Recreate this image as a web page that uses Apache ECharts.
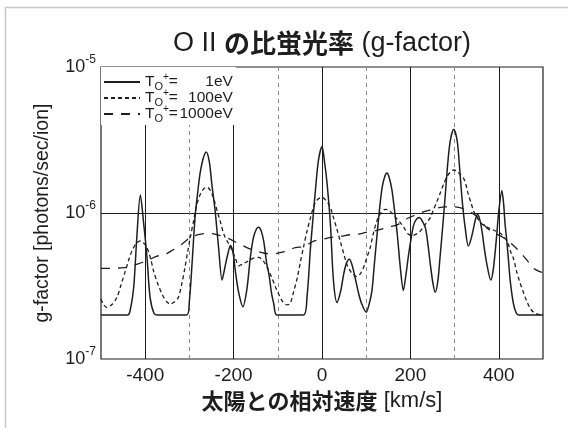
<!DOCTYPE html>
<html><head><meta charset="utf-8">
<script src="https://cdn.jsdelivr.net/npm/echarts@6/dist/echarts.min.js"></script>
<style>html,body{margin:0;padding:0;background:#fff}#c{width:568px;height:428px}</style>
</head><body><div id="c"></div>
<script>
// ---- data ----
const seriesNames = ['1eV', '100eV', '1000eV'];
const xLabelTicks = [-400, -200, 0, 200, 400];

const x1eV = [-500,-440,-434,-426,-419,-411,-404,-396,-389,-380,-372,-306,-300,-294,-287,-281,-276,-269,-262,-255,-249,-242,-234,-226,-220,-214,-207,-201,-196,-189,-179,-170,-162,-155,-148,-143,-138,-132,-125,-120,-114,-109,-102,-42,-34,-26,-20,-15,-8,0,6,11,19,26,34,42,49,55,62,68,75,83,90,100,107,113,118,124,130,136,142,147,152,158,164,170,178,184,190,196,202,207,213,220,227,234,240,245,251,256,262,267,273,279,284,290,298,306,311,316,320,324,331,337,343,347,352,357,362,367,373,382,387,392,396,400,407,411,414,418,422,426,433,440,446,500];
const y1eV = [2.0e-7,2.0e-7,2.15e-7,3.1e-7,6.8e-7,1.33e-6,8.8e-7,5.0e-7,2.64e-7,2.05e-7,2.0e-7,2.0e-7,2.5e-7,4.5e-7,9.5e-7,1.4e-6,1.85e-6,2.35e-6,2.62e-6,2.25e-6,1.55e-6,1.05e-6,5.8e-7,3.47e-7,4.2e-7,5.1e-7,6.0e-7,5.3e-7,4.0e-7,2.9e-7,2.28e-7,3.0e-7,5.0e-7,6.8e-7,7.8e-7,8.0e-7,7.6e-7,6.45e-7,4.5e-7,3.8e-7,2.8e-7,2.38e-7,2.0e-7,2.0e-7,2.64e-7,5.8e-7,9.5e-7,1.42e-6,2.3e-6,2.85e-6,2.2e-6,1.65e-6,8.4e-7,3.43e-7,2.44e-7,2.9e-7,3.8e-7,4.5e-7,4.83e-7,4.4e-7,3.6e-7,2.8e-7,2.38e-7,2.09e-7,2.4e-7,2.94e-7,4.3e-7,6.8e-7,1.05e-6,1.49e-6,1.78e-6,1.88e-6,1.75e-6,1.45e-6,1.05e-6,7.3e-7,4.0e-7,2.95e-7,3.8e-7,5.2e-7,6.8e-7,8.2e-7,9.0e-7,9.3e-7,8.8e-7,7.9e-7,6.0e-7,4.46e-7,3.3e-7,2.86e-7,3.4e-7,4.96e-7,8.0e-7,1.34e-6,2.1e-6,3.1e-6,3.75e-6,3.1e-6,2.1e-6,1.34e-6,1.0e-6,7.9e-7,5.95e-7,6.6e-7,7.9e-7,9.0e-7,9.8e-7,9.0e-7,7.5e-7,5.8e-7,4.46e-7,3.47e-7,4.0e-7,5.5e-7,7.5e-7,1.03e-6,1.42e-6,1.15e-6,8.5e-7,6.5e-7,4.7e-7,3.4e-7,2.4e-7,2.05e-7,2.0e-7,2.0e-7];

const x100eV = [-500,-494,-487,-476,-464,-455,-445,-437,-430,-420,-411,-403,-396,-388,-381,-372,-362,-353,-344,-335,-325,-317,-310,-304,-298,-290,-283,-275,-267,-260,-252,-245,-237,-229,-222,-212,-203,-196,-188,-178,-166,-155,-143,-133,-124,-115,-105,-96,-88,-79,-72,-64,-56,-49,-42,-34,-26,-20,-15,-8,0,8,15,21,26,34,41,49,56,62,68,79,87,94,101,109,116,124,133,143,150,158,167,177,187,196,205,214,222,233,245,252,260,268,275,283,290,298,306,313,320,326,331,337,343,352,362,373,384,394,403,412,420,427,433,440,447,455,463,470,478,488,500];
const y100eV = [2.58e-7,2.35e-7,2.26e-7,2.35e-7,2.64e-7,3.2e-7,4.0e-7,4.8e-7,5.5e-7,6.2e-7,6.45e-7,6.2e-7,5.8e-7,4.9e-7,4.0e-7,3.3e-7,2.79e-7,2.5e-7,2.38e-7,2.45e-7,2.64e-7,3.3e-7,4.24e-7,5.4e-7,6.8e-7,9.0e-7,1.15e-6,1.35e-6,1.47e-6,1.5e-6,1.42e-6,1.25e-6,1.03e-6,8.5e-7,7.15e-7,6.2e-7,5.5e-7,4.9e-7,4.35e-7,4.5e-7,4.7e-7,4.9e-7,4.96e-7,4.7e-7,4.24e-7,3.7e-7,3.1e-7,2.7e-7,2.45e-7,2.35e-7,2.4e-7,2.9e-7,3.6e-7,4.6e-7,5.8e-7,7.5e-7,9.3e-7,1.08e-6,1.18e-6,1.25e-6,1.28e-6,1.23e-6,1.15e-6,1.05e-6,9.3e-7,7.7e-7,6.45e-7,5.3e-7,4.46e-7,4.1e-7,3.86e-7,3.67e-7,3.85e-7,4.24e-7,4.9e-7,5.8e-7,7.2e-7,8.8e-7,1.0e-6,1.06e-6,1.05e-6,1.0e-6,9.3e-7,8.6e-7,7.8e-7,7.15e-7,7.0e-7,7.2e-7,7.5e-7,8.3e-7,9.3e-7,1.05e-6,1.2e-6,1.38e-6,1.57e-6,1.78e-6,1.9e-6,1.97e-6,1.93e-6,1.83e-6,1.74e-6,1.55e-6,1.34e-6,1.18e-6,1.03e-6,9.2e-7,8.4e-7,8.0e-7,7.74e-7,7.5e-7,7.3e-7,6.8e-7,6.3e-7,5.4e-7,4.9e-7,4.0e-7,3.4e-7,2.9e-7,2.5e-7,2.25e-7,2.1e-7,2.03e-7,2.0e-7];

const x1000eV = [-500,-480,-460,-440,-420,-405,-390,-375,-355,-335,-317,-298,-280,-260,-245,-230,-207,-190,-170,-150,-130,-110,-90,-75,-60,-40,-20,0,20,40,64,86,109,124,150,170,194,215,235,260,280,300,320,335,350,373,390,410,430,448,465,478,490,500];
const y1000eV = [4.17e-7,4.17e-7,4.2e-7,4.25e-7,4.45e-7,4.6e-7,4.8e-7,5.05e-7,5.2e-7,5.65e-7,6.1e-7,6.8e-7,7.1e-7,7.25e-7,7.2e-7,7.0e-7,6.6e-7,6.2e-7,5.8e-7,5.5e-7,5.3e-7,5.25e-7,5.4e-7,5.6e-7,5.8e-7,5.9e-7,6.4e-7,6.6e-7,6.8e-7,6.9e-7,7.1e-7,7.2e-7,7.5e-7,7.6e-7,8.0e-7,8.3e-7,9.2e-7,9.8e-7,1.03e-6,1.08e-6,1.1e-6,1.1e-6,1.07e-6,1.02e-6,9.5e-7,7.9e-7,7.3e-7,6.8e-7,6.1e-7,5.4e-7,4.7e-7,4.2e-7,4.0e-7,3.9e-7];

// ---- chart ----
const LAT = "'Liberation Sans', Arial, sans-serif";
const CJK = "'Noto Sans CJK JP', sans-serif";
const zip = (xs, ys) => xs.map((x, i) => [x, ys[i]]);
const ink = '#1e1e1e';

const chart = echarts.init(document.getElementById('c'), null, {renderer: 'canvas'});
chart.setOption({
  animation: false,
  backgroundColor: '#fff',
  title: {
    text: '{l|O II }{c|の比蛍光率}{l| (g-factor)}',
    left: 322, textAlign: 'center', top: 30, padding: 0,
    textStyle: {
      fontWeight: 'normal',
      rich: {
        l: {fontSize: 27, fontFamily: LAT, fontWeight: 'normal', color: ink},
        c: {fontSize: 26, fontFamily: CJK, fontWeight: 'bold', color: ink}
      }
    }
  },
  graphic: [{
    type: 'rect', silent: true,
    shape: {x: 5.5, y: 7.5, width: 700, height: 600},
    style: {fill: 'none', stroke: '#c8c8c8', lineWidth: 1.5}
  }],
  grid: {left: 101, right: 25, top: 67, bottom: 69, show: true, borderColor: ink, borderWidth: 1.2, backgroundColor: 'transparent'},
  legend: {
    orient: 'vertical', left: 101, top: 67,
    padding: [5, 3, 1, 2], itemGap: -4,
    itemWidth: 36, itemHeight: 14,
    backgroundColor: '#fff',
    itemStyle: {color: 'rgba(0,0,0,0)', borderWidth: 0, opacity: 0},
    data: seriesNames,
    formatter: name => '{t|T}{o|O}{p|+}{t|=}{v|' + name + '}',
    textStyle: {
      color: ink,
      rich: {
        t: {fontSize: 15.5, lineHeight: 20, fontFamily: LAT, color: ink},
        o: {fontSize: 11, lineHeight: 9, verticalAlign: 'bottom', fontFamily: LAT, color: ink},
        p: {fontSize: 10, lineHeight: 18, verticalAlign: 'top', fontFamily: LAT, color: ink},
        v: {fontSize: 15.5, lineHeight: 20, width: 55, align: 'right', fontFamily: LAT, color: ink}
      }
    }
  },
  xAxis: [{
    type: 'value', position: 'bottom', min: -500, max: 500, interval: 200,
    axisLine: {show: false}, axisTick: {show: false}, axisLabel: {show: false},
    splitLine: {show: true, showMinLine: false, showMaxLine: false, lineStyle: {color: '#8a8a8a', type: [4, 4], width: 1}}
  }, {
    type: 'value', position: 'bottom', min: -500, max: 500, interval: 100,
    axisLine: {show: false}, axisTick: {show: false},
    axisLabel: {
      margin: 7, fontSize: 19, fontFamily: LAT, color: ink,
      formatter: v => xLabelTicks.includes(v) ? String(v) : ''
    },
    splitLine: {show: true, showMinLine: false, showMaxLine: false, lineStyle: {color: [ink, 'rgba(0,0,0,0)'], width: 1}},
    name: '{c|太陽との相対速度}{l| [km/s]}',
    nameLocation: 'middle', nameGap: 31,
    nameTextStyle: {
      rich: {
        c: {fontSize: 22, fontFamily: CJK, fontWeight: 'bold', color: ink},
        l: {fontSize: 22, fontFamily: LAT, color: ink}
      }
    }
  }],
  yAxis: {
    type: 'log', logBase: 10, min: 1e-7, max: 1e-5,
    axisLine: {show: false}, axisTick: {show: false}, minorTick: {show: false},
    axisLabel: {
      margin: 5, color: ink,
      formatter: v => '{b|10}{s|' + Math.round(Math.log10(v)) + '}',
      rich: {
        b: {fontSize: 18, fontFamily: LAT, color: ink},
        s: {fontSize: 12, fontFamily: LAT, color: ink, padding: [0, 0, 14, 0]}
      }
    },
    splitLine: {show: true, showMinLine: false, showMaxLine: false, lineStyle: {color: ink, width: 1}},
    name: 'g-factor [photons/sec/ion]',
    nameLocation: 'middle', nameGap: 48, nameRotate: 90,
    nameTextStyle: {fontSize: 19.5, fontFamily: LAT, color: ink}
  },
  series: [{
    name: seriesNames[0], type: 'line', xAxisIndex: 1, data: zip(x1eV, y1eV),
    showSymbol: false, symbol: 'none', smooth: 0.3,
    lineStyle: {color: ink, width: 1.5, type: 'solid'}, itemStyle: {color: ink}
  }, {
    name: seriesNames[1], type: 'line', xAxisIndex: 1, data: zip(x100eV, y100eV),
    showSymbol: false, symbol: 'none', smooth: 0.3,
    lineStyle: {color: ink, width: 1.3, type: [4, 3]}, itemStyle: {color: ink}
  }, {
    name: seriesNames[2], type: 'line', xAxisIndex: 1, data: zip(x1000eV, y1000eV),
    showSymbol: false, symbol: 'none', smooth: 0.3,
    lineStyle: {color: ink, width: 1.3, type: [9, 8]}, itemStyle: {color: ink}
  }]
});
</script></body></html>
